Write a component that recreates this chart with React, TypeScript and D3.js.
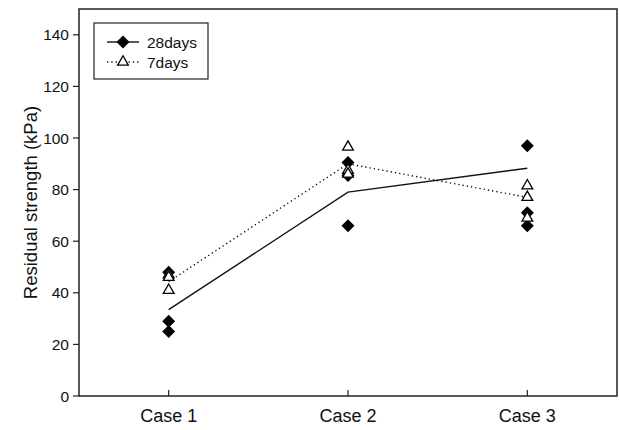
import React from "react";
import * as d3 from "d3";

// chart values
const cases = ["Case 1", "Case 2", "Case 3"];
const days28 = [[48, 29, 25], [90.5, 85.5, 66], [97, 71, 66]];
const days7 = [[47, 46, 41], [96.5, 87.5, 86], [81.5, 77, 69]];
const mean28 = [33.5, 79, 88.3];
const mean7 = [44.3, 90, 77];
const yTicks = [0, 20, 40, 60, 80, 100, 120, 140];

const W = 619, H = 430;
const plot = { left: 79, right: 617, top: 9, bottom: 396 };
const font = "'Liberation Sans', Arial, sans-serif";

export default function App() {
  const x = d3.scalePoint<string>().domain(cases).range([plot.left, plot.right]).padding(0.5);
  const y = d3.scaleLinear().domain([0, 150]).range([plot.bottom, plot.top]);

  const diamond = d3.symbol().type(d3.symbolSquare).size(84)() as string;
  const triangle = d3.symbol().type(d3.symbolTriangle).size(50)() as string;

  const line = d3.line<number>()
    .x((_, i) => x(cases[i]) as number)
    .y(d => y(d));

  return (
    <svg width={W} height={H} style={{ position: "absolute", left: 0, top: 0, background: "#fff" }}
      fontFamily={font}>
      <rect x={0} y={0} width={W} height={H} fill="#fff" />

      {/* mean lines */}
      <path d={line(mean28) as string} fill="none" stroke="#111" strokeWidth={1.4} />
      <path d={line(mean7) as string} fill="none" stroke="#111" strokeWidth={1.4} strokeDasharray="1.3,3" />

      {/* 28 days points */}
      {days28.map((vals, i) => vals.map((v, j) => (
        <path key={`d${i}-${j}`} d={diamond}
          transform={`translate(${x(cases[i])},${y(v)}) rotate(45)`} fill="#000" />
      )))}
      {/* 7 days points */}
      {days7.map((vals, i) => vals.map((v, j) => (
        <path key={`t${i}-${j}`} d={triangle}
          transform={`translate(${x(cases[i])},${y(v)})`} fill="#fff" stroke="#000" strokeWidth={1.3} />
      )))}

      {/* frame */}
      <rect x={plot.left} y={plot.top} width={plot.right - plot.left} height={plot.bottom - plot.top}
        fill="none" stroke="#222" strokeWidth={1.5} />

      {/* y axis */}
      {yTicks.map(t => (
        <g key={t}>
          <line x1={plot.left - 6} x2={plot.left} y1={y(t)} y2={y(t)} stroke="#222" strokeWidth={1.2} />
          <text x={69} y={y(t)} dy="0.36em" textAnchor="end" fontSize={15.5} fill="#111">{t}</text>
        </g>
      ))}
      <text transform={`translate(37,${(plot.top + plot.bottom) / 2}) rotate(-90)`} textAnchor="middle"
        fontSize={18.5} fill="#111">Residual strength (kPa)</text>

      {/* x axis */}
      {cases.map(c => (
        <g key={c}>
          <line x1={x(c)} x2={x(c)} y1={plot.bottom - 6} y2={plot.bottom} stroke="#222" strokeWidth={1.2} />
          <text x={x(c)} y={422} textAnchor="middle" fontSize={18} fill="#111">{c}</text>
        </g>
      ))}

      {/* legend */}
      <rect x={94} y={23} width={114} height={56} fill="#fff" stroke="#222" strokeWidth={1.2} />
      <line x1={107} x2={139} y1={42} y2={42} stroke="#111" strokeWidth={1.4} />
      <path d={diamond} transform="translate(123,42) rotate(45)" fill="#000" />
      <text x={147} y={47.5} fontSize={15.5} fill="#111">28days</text>
      <line x1={107} x2={139} y1={62} y2={62} stroke="#111" strokeWidth={1.3} strokeDasharray="1.3,3" />
      <path d={triangle} transform="translate(123,62)" fill="#fff" stroke="#000" strokeWidth={1.3} />
      <text x={147} y={67.5} fontSize={15.5} fill="#111">7days</text>
    </svg>
  );
}
